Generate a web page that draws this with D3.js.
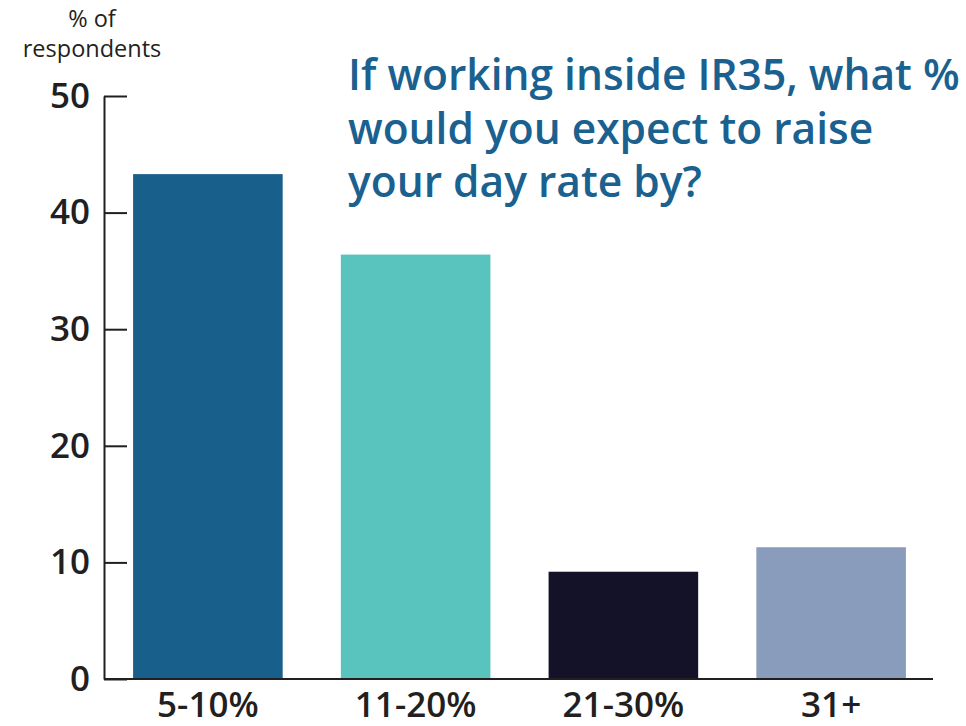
<!DOCTYPE html>
<html>
<head>
<meta charset="utf-8">
<script src="https://cdn.jsdelivr.net/npm/d3@7"></script>
<style>
  html, body { margin: 0; padding: 0; background: #fff; }
  svg { display: block; font-family: "Open Sans", sans-serif; }
</style>
</head>
<body>
<div id="chart"></div>
<script>
const categories = ['5-10%', '11-20%', '21-30%', '31+'];
const values = [43.3, 36.4, 9.2, 11.3];
const barColors = ['#195f8c', '#58c4bd', '#141228', '#8a9cbc'];
const yTicks = [0, 10, 20, 30, 40, 50];
const titleLines = ['If working inside IR35, what %', 'would you expect to raise', 'your day rate by?'];
const yLabelLines = ['% of', 'respondents'];

const width = 966;
const height = 726;

const svg = d3.select('#chart')
  .append('svg')
  .attr('width', width)
  .attr('height', height);

const x = d3.scaleBand()
  .domain(categories)
  .range([104, 935])
  .paddingInner(0.28)
  .paddingOuter(0.14);

const y = d3.scaleLinear()
  .domain([0, 50])
  .range([679, 96]);

// bars
svg.selectAll('rect.bar')
  .data(categories)
  .enter()
  .append('rect')
  .attr('class', 'bar')
  .attr('x', d => x(d))
  .attr('y', (d, i) => y(values[i]))
  .attr('width', x.bandwidth())
  .attr('height', (d, i) => y(0) - y(values[i]))
  .attr('fill', (d, i) => barColors[i]);

// y axis, ticks pointing inward
const yAxis = svg.append('g')
  .attr('transform', 'translate(104,0)')
  .call(d3.axisLeft(y).tickValues(yTicks).tickSizeInner(-23).tickSizeOuter(0).tickPadding(14));
yAxis.select('.domain').attr('stroke', '#231f20').attr('stroke-width', 2);
yAxis.selectAll('.tick line').attr('stroke', '#231f20').attr('stroke-width', 2);
yAxis.selectAll('.tick text')
  .attr('fill', '#231f20')
  .style('font-family', '"Open Sans", sans-serif')
  .style('font-size', '35px')
  .style('font-weight', 600);

// x axis line + labels
const xAxis = svg.append('g')
  .attr('transform', 'translate(0,679)')
  .call(d3.axisBottom(x).tickSize(0).tickPadding(13));
xAxis.select('.domain').attr('stroke', '#231f20').attr('stroke-width', 2)
  .attr('d', 'M104,0H933');
xAxis.selectAll('.tick text')
  .attr('fill', '#231f20')
  .style('font-family', '"Open Sans", sans-serif')
  .style('font-size', '35px')
  .style('font-weight', 600);

// y axis label (two separate lines)
svg.selectAll('text.ylabel')
  .data(yLabelLines)
  .enter()
  .append('text')
  .attr('class', 'ylabel')
  .attr('x', 92)
  .attr('y', (d, i) => i === 0 ? 27 : 57)
  .attr('text-anchor', 'middle')
  .attr('fill', '#231f20')
  .style('font-size', '23.5px')
  .text(d => d);

// title
svg.append('text')
  .attr('x', 348)
  .attr('y', 90)
  .attr('fill', '#1a6190')
  .style('font-size', '42.5px')
  .style('font-weight', 600)
  .selectAll('tspan')
  .data(titleLines)
  .enter()
  .append('tspan')
  .attr('x', 348)
  .attr('dy', (d, i) => i === 0 ? 0 : 53.5)
  .text(d => d);
</script>
</body>
</html>
